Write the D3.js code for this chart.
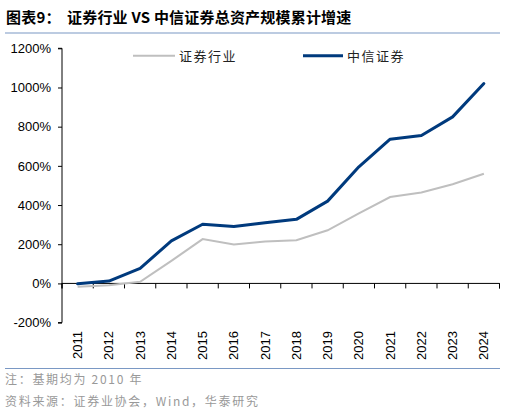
<!DOCTYPE html>
<html><head><meta charset="utf-8">
<script src="https://cdn.jsdelivr.net/npm/d3@7"></script>
<style>body{margin:0;background:#fff}svg{display:block}</style>
</head><body><svg id="c" width="505" height="413"></svg>
<script>
const years = ["2011","2012","2013","2014","2015","2016","2017","2018","2019","2020","2021","2022","2023","2024"];
const industry = [-17,-9,8,115,226,199,214,220,271,357,441,464,506,560];
const citic = [-2,12,77,217,302,290,310,327,420,595,736,755,850,1020];
const yTicks = [-200,0,200,400,600,800,1000,1200];
const seriesNames = ["证券行业","中信证券"];

const svg = d3.select("#c");
const cjk = "'Noto Sans CJK SC','Noto Sans',sans-serif";
const lat = "'Liberation Sans',Arial,sans-serif";

const title = svg.append("text").attr("x",6).attr("y",23).attr("font-family",cjk).attr("font-weight","bold")
  .attr("font-size",15).attr("fill","#000").attr("letter-spacing",0.2);
title.append("tspan").text("图表9：");
title.append("tspan").attr("x",67).text("证券行业 VS 中信证券总资产规模累计增速");
svg.append("line").attr("x1",5).attr("x2",500).attr("y1",33).attr("y2",33).attr("stroke","#7a98c4").attr("stroke-width",1.2);

const x = d3.scaleBand().domain(years).range([62,499.5]);
const y = d3.scaleLinear().domain([-200,1200]).range([322.6,48.3]);

const yAxis = svg.append("g").attr("transform","translate(62,0)")
  .call(d3.axisLeft(y).tickValues(yTicks).tickSize(4).tickFormat(d=>d+"%"));
yAxis.select(".domain").attr("stroke","#000").attr("d","M-4,"+y(-200)+"H0V"+y(1200)+"H-4");
yAxis.selectAll(".tick line").attr("stroke","#000");
yAxis.selectAll(".tick text").attr("font-family",lat).attr("font-size",13).attr("fill","#000").attr("x",-11);

const xAxis = svg.append("g").attr("transform","translate(0,"+y(0)+")")
  .call(d3.axisBottom(x).tickSize(5).tickFormat(""));
xAxis.select(".domain").attr("stroke","#000").attr("d","M62,5V0H499.5V5");
xAxis.selectAll(".tick line").attr("stroke","#000").attr("transform","translate("+(-x.bandwidth()/2)+",0)");
svg.append("line").attr("x1",x.range()[1]).attr("x2",x.range()[1]).attr("y1",y(0)).attr("y2",y(0)+5).attr("stroke","#000");

svg.append("g").selectAll("text").data(years).join("text")
  .attr("transform",d=>"translate("+(x(d)+x.bandwidth()/2+4.5)+",331) rotate(-90)")
  .attr("text-anchor","end").attr("font-family",lat).attr("font-size",13).attr("fill","#000").text(d=>d);

const line = d3.line().x((d,i)=>x(years[i])+x.bandwidth()/2).y(d=>y(d));
svg.append("path").datum(industry).attr("d",line).attr("fill","none").attr("stroke","#bfbfbf").attr("stroke-width",2);
svg.append("path").datum(citic).attr("d",line).attr("fill","none").attr("stroke","#003a7d").attr("stroke-width",3).attr("stroke-linejoin","round").attr("stroke-linecap","round");

// legend
const lg = [{x1:133,x2:175,tx:179,c:"#bfbfbf",w:2},{x1:303,x2:343,tx:347,c:"#003a7d",w:3}];
lg.forEach((l,i)=>{
  svg.append("line").attr("x1",l.x1).attr("x2",l.x2).attr("y1",55.7).attr("y2",55.7).attr("stroke",l.c).attr("stroke-width",l.w);
  svg.append("text").attr("x",l.tx).attr("y",60.5).attr("font-family",cjk).attr("font-size",13).attr("fill","#222")
    .attr("letter-spacing",1.5).text(seriesNames[i]);
});

svg.append("line").attr("x1",5).attr("x2",500).attr("y1",368.5).attr("y2",368.5).attr("stroke","#7a98c4").attr("stroke-width",1.2);
svg.append("text").attr("x",5).attr("y",383.5).attr("font-family",cjk).attr("font-size",12).attr("fill","#999").attr("letter-spacing",1.7).text("注：基期均为 2010 年");
svg.append("text").attr("x",5).attr("y",406).attr("font-family",cjk).attr("font-size",12).attr("fill","#999").attr("letter-spacing",1.7).text("资料来源：证券业协会，Wind，华泰研究");
</script></body></html>
